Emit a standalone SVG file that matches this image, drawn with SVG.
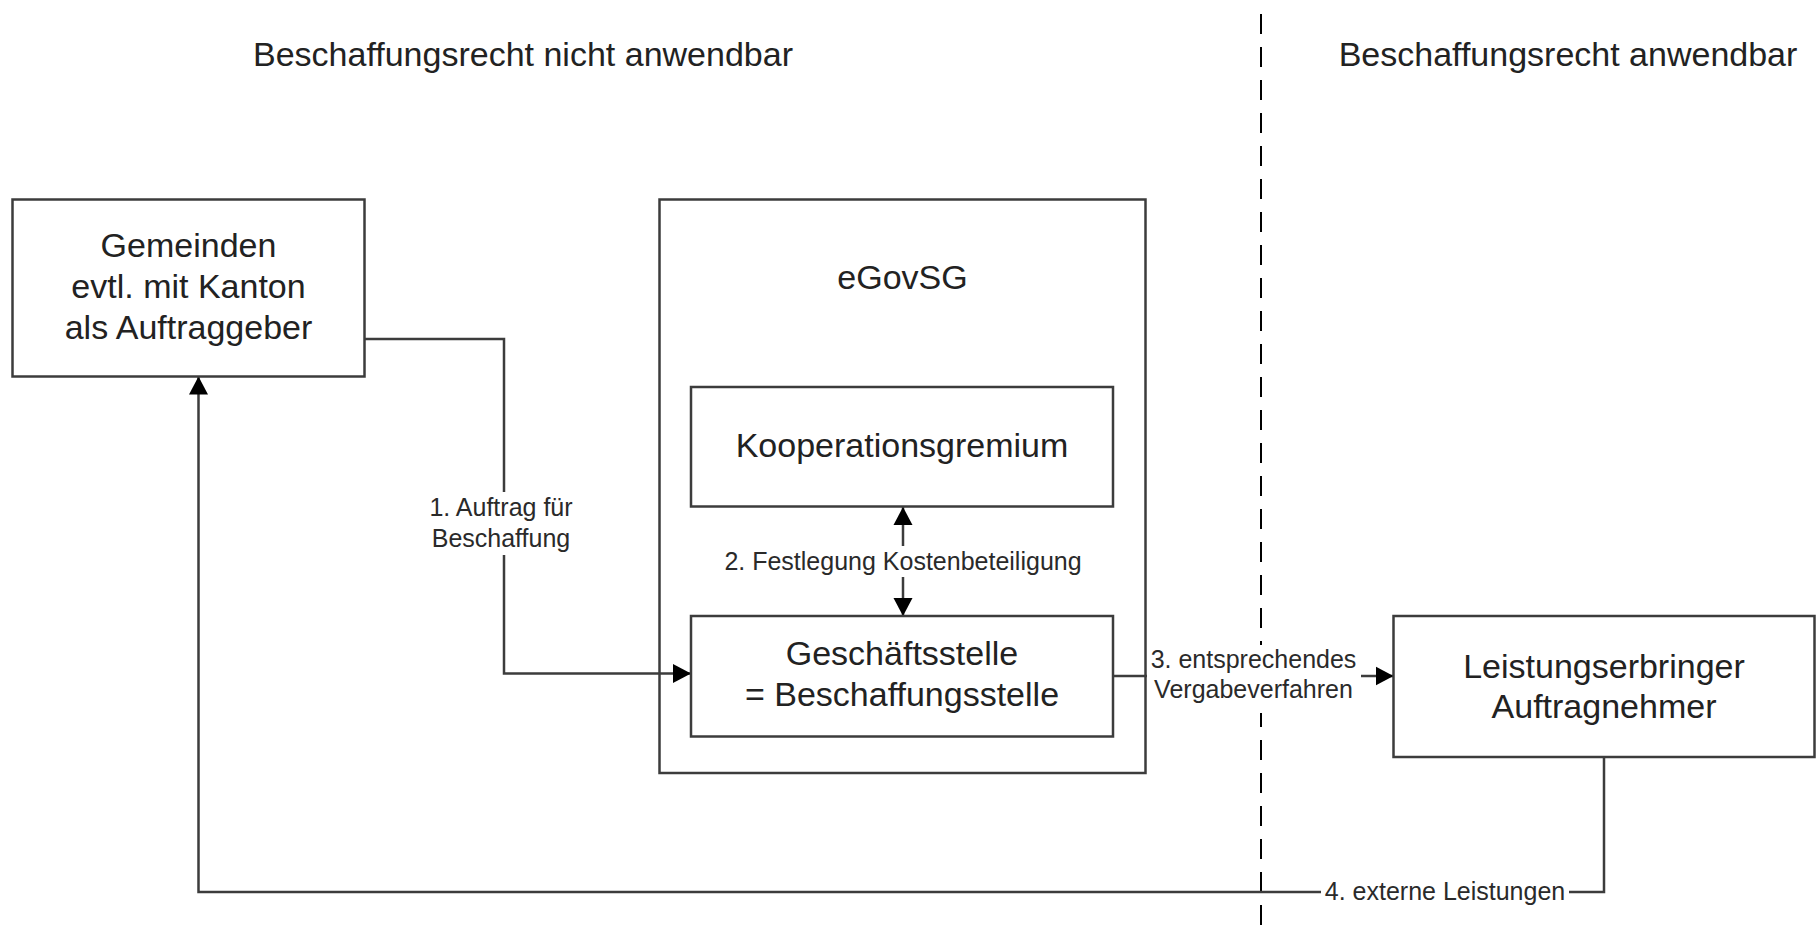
<svg xmlns="http://www.w3.org/2000/svg" width="1816" height="936" viewBox="0 0 1816 936">
<style>
.box{fill:#fff;stroke:#3c3c3c;stroke-width:2.5}
.t{font-family:"Liberation Sans",Arial,sans-serif;font-size:34px;fill:#222;text-anchor:middle}
.l{font-family:"Liberation Sans",Arial,sans-serif;font-size:25px;fill:#2a2a2a;text-anchor:middle}
.c{fill:none;stroke:#3c3c3c;stroke-width:2.5}
.bg{fill:#fff;stroke:none}
</style>
<defs>
<marker id="arr" markerUnits="userSpaceOnUse" markerWidth="18" markerHeight="20" refX="18" refY="10" orient="auto-start-reverse" viewBox="0 0 18 20">
<path d="M0,0.5 L18,10 L0,19.5 z" fill="#000"/>
</marker>
</defs>
<rect width="1816" height="936" fill="#fff"/>
<g id="titles">
<text class="t" x="523" y="66">Beschaffungsrecht nicht anwendbar</text>
<text class="t" x="1568" y="66">Beschaffungsrecht anwendbar</text>
</g>
<g id="divider">
<line x1="1261" y1="14" x2="1261" y2="936" stroke="#000" stroke-width="2" stroke-dasharray="20 13"/>
</g>
<g id="egovsg">
<rect class="box" x="659.5" y="199.5" width="486" height="573.5"/>
<text class="t" x="902.5" y="289">eGovSG</text>
</g>
<g id="connectors">
<path class="c" d="M364.5,339 H504 V673.5 H691" marker-end="url(#arr)"/>
<rect class="bg" x="422" y="492" width="164" height="63"/>
<text class="l" x="501" y="516">1. Auftrag für</text>
<text class="l" x="501" y="547">Beschaffung</text>
<path class="c" d="M903,507 V616" marker-start="url(#arr)" marker-end="url(#arr)"/>
<rect class="bg" x="715" y="546" width="376" height="31"/>
<text class="l" x="903" y="570">2. Festlegung Kostenbeteiligung</text>
<path class="c" d="M1113,676 H1393.5" marker-end="url(#arr)"/>
<rect class="bg" x="1147" y="645" width="214" height="68"/>
<text class="l" x="1253.5" y="668">3. entsprechendes</text>
<text class="l" x="1253.5" y="698">Vergabeverfahren</text>
<path class="c" d="M1604,757 V892 H198.5 V376.5" marker-end="url(#arr)"/>
<rect class="bg" x="1321" y="880" width="248" height="28"/>
<text class="l" x="1445" y="900">4. externe Leistungen</text>
</g>
<g id="gemeinden">
<rect class="box" x="12.5" y="199.5" width="352" height="177"/>
<text class="t" x="188.5" y="257">Gemeinden</text>
<text class="t" x="188.5" y="298">evtl. mit Kanton</text>
<text class="t" x="188.5" y="339">als Auftraggeber</text>
</g>
<g id="kooperationsgremium">
<rect class="box" x="691" y="387" width="422" height="119.5"/>
<text class="t" x="902" y="457">Kooperationsgremium</text>
</g>
<g id="geschaeftsstelle">
<rect class="box" x="691" y="616" width="422" height="120.5"/>
<text class="t" x="902" y="664.5">Geschäftsstelle</text>
<text class="t" x="902" y="706">= Beschaffungsstelle</text>
</g>
<g id="leistungserbringer">
<rect class="box" x="1393.5" y="616" width="421" height="141"/>
<text class="t" x="1604" y="677.5">Leistungserbringer</text>
<text class="t" x="1604" y="717.5">Auftragnehmer</text>
</g>
</svg>
